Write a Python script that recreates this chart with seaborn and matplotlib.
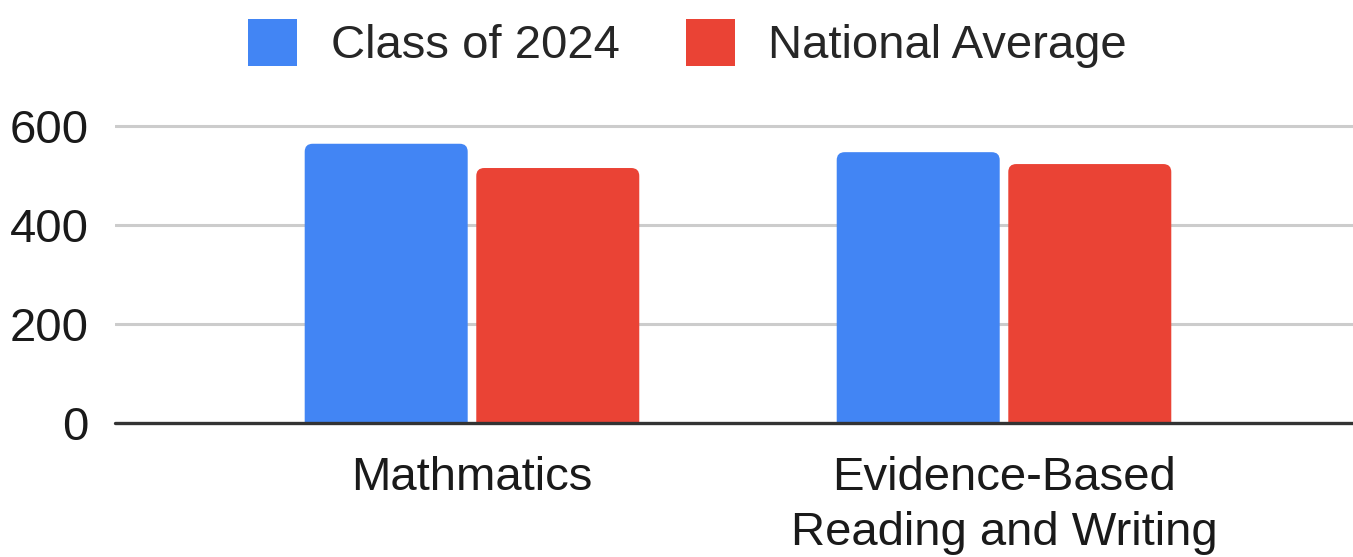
import matplotlib
matplotlib.use("Agg")
import matplotlib.pyplot as plt
from matplotlib.patches import FancyBboxPatch
import pandas as pd
import seaborn as sns

subjects = ["Mathmatics", "Evidence-Based\nReading and Writing"]
class_2024 = [564, 547]
national_avg = [515, 523]
series_names = ["Class of 2024", "National Average"]
y_ticks = [0, 200, 400, 600]

palette = {"Class of 2024": "#4285F4", "National Average": "#EA4335"}

df = pd.DataFrame({
    "subject": subjects * 2,
    "score": class_2024 + national_avg,
    "group": [series_names[0]] * len(subjects) + [series_names[1]] * len(subjects),
})

sns.set_theme(style="white")
plt.rcParams["font.family"] = ["Liberation Sans", "DejaVu Sans"]

fig = plt.figure(figsize=(13.53, 5.57), dpi=100)
ax = fig.add_axes([0.085, 0.2406, 0.915, 0.5422])

sns.barplot(
    data=df,
    x="subject",
    y="score",
    hue="group",
    hue_order=series_names,
    order=subjects,
    palette=palette,
    width=0.645,
    gap=0.05,
    saturation=1,
    linewidth=0,
    ax=ax,
)

ax.set_ylim(0, 610)
ax.set_xlim(-0.671, 1.656)

# round the top corners: swap each bar for a rounded patch of the same extent
r_x = 0.015
aspect = 16.0 / r_x
for bar in list(ax.patches):
    x0, w, h = bar.get_x(), bar.get_width(), bar.get_height()
    rounded = FancyBboxPatch(
        (x0, -20), w, h + 20,
        boxstyle=f"round,pad=0,rounding_size={r_x}",
        mutation_aspect=aspect,
        facecolor=bar.get_facecolor(),
        edgecolor="none",
        zorder=2,
    )
    ax.add_patch(rounded)
    bar.set_visible(False)

ax.set_yticks(y_ticks)
ax.set_yticklabels([str(t) for t in y_ticks], fontsize=34, color="#1a1a1a")
ax.tick_params(axis="x", labelsize=34, colors="#1a1a1a", length=0, pad=24)
ax.tick_params(axis="y", length=0, pad=19)
ax.set_xlabel("")
ax.set_ylabel("")
for t in y_ticks[1:]:
    ax.axhline(t, color="#cccccc", linewidth=2.2, zorder=0)
ax.axhline(0, color="#333333", linewidth=2.4, zorder=3, clip_on=False)
for spine in ax.spines.values():
    spine.set_visible(False)

for lbl in ax.get_xticklabels():
    lbl.set_linespacing(1.3)

sns.move_legend(
    ax,
    "center",
    bbox_to_anchor=(0.508, 0.922),
    bbox_transform=fig.transFigure,
    ncol=2,
    frameon=False,
    title=None,
    fontsize=34,
    handlelength=1.05,
    handleheight=1.15,
    handletextpad=0.7,
    columnspacing=1.4,
)

fig.savefig("out.png", dpi=100)
